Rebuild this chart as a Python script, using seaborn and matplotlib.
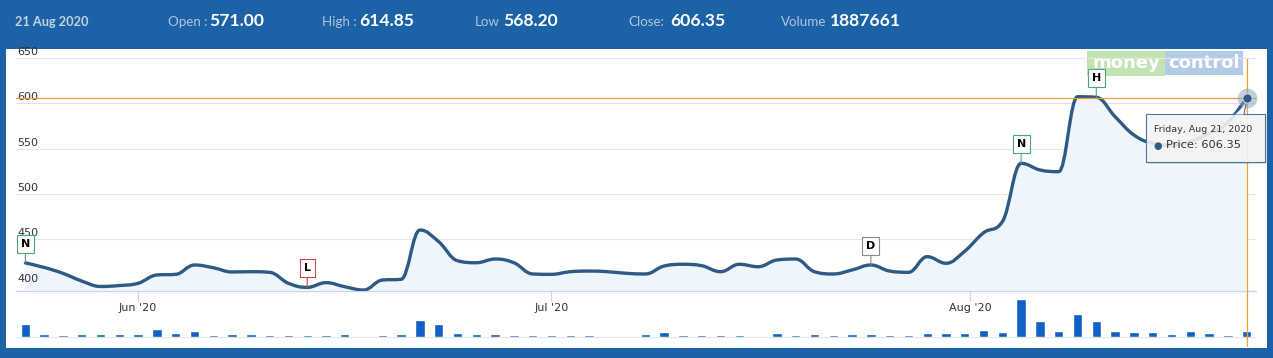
import numpy as np
import pandas as pd
import matplotlib
matplotlib.use("Agg")
import matplotlib.pyplot as plt
import seaborn as sns
from matplotlib.path import Path
from matplotlib.patches import PathPatch, Rectangle, Polygon
from matplotlib.lines import Line2D

# ---------------- data ----------------
header_date = "21 Aug 2020"
header_labels = ["Open :", "High :", "Low", "Close:", "Volume"]
header_values = ["571.00", "614.85", "568.20", "606.35", "1887661"]

price = [424, 419, 412.5, 404, 398, 399, 401.5, 410.7, 411.4, 421.7,
         418.7, 414, 414.3, 413.6, 401.5, 397, 402.2, 397.7, 394.1, 405.1,
         405.9, 460.3, 447.4, 426.4, 424.2, 428.3, 424.2, 411.8, 411.4, 414.3,
         415, 414.3, 412.5, 411.8, 420.6, 422.5, 420.9, 414.3, 422.5, 419.8,
         427.2, 428.3, 414.3, 411.8, 416.2, 421.7, 415, 413.6, 430.9, 423.6,
         437, 457.3, 469.5, 533.9, 526.6, 524.7, 607.4, 606.8, 585.4, 565.2,
         556, 554, 558, 567, 579, 606.35]

volume = [4200000, 950000, 650000, 950000, 950000, 950000, 950000, 2550000, 1220000, 1890000,
          650000, 950000, 950000, 650000, 650000, 650000, 650000, 950000, 0, 650000,
          950000, 5530000, 4200000, 1220000, 950000, 950000, 650000, 650000, 650000, 650000,
          650000, 0, 0, 950000, 1560000, 650000, 650000, 650000, 650000, 0,
          1220000, 650000, 950000, 650000, 950000, 1000000, 650000, 650000, 1220000, 1220000,
          1220000, 2220000, 1560000, 12480000, 5200000, 1890000, 7520000, 5200000, 1890000, 1560000,
          1560000, 950000, 1890000, 1220000, 650000, 1887661]

day_index = list(range(len(price)))
month_ticks = [6, 28, 50.3]
month_labels = ["Jun '20", "Jul '20", "Aug '20"]
y_ticks = [400, 450, 500, 550, 600, 650]
flag_index = [0, 15, 45, 53, 57]
flag_text = ["N", "L", "D", "N", "H"]
flag_edge = ["#4fa57a", "#c9484a", "#8a8a8a", "#4fa57a", "#4fa57a"]
tooltip_date = "Friday, Aug 21, 2020"
tooltip_price = 606.35

# ---------------- style ----------------
sns.set_theme(style="white")
plt.rcParams["font.family"] = ["DejaVu Sans"]

W, H = 1273, 358
BLUE = "#1b62a6"
LINE = "#2e5a84"


def fx(x):
    return x / W


def fy(y):
    return 1 - y / H


fig = plt.figure(figsize=(W / 100, H / 100), dpi=100)
fig.patch.set_facecolor(BLUE)

# white panel
fig.add_artist(Rectangle((fx(6), fy(348)), fx(1267) - fx(6), fy(49) - fy(348),
                         transform=fig.transFigure, facecolor="white",
                         edgecolor="none", zorder=-2))

# watermark
fig.add_artist(Rectangle((fx(1087), fy(76)), fx(1165) - fx(1087), fy(51) - fy(76),
                         transform=fig.transFigure, facecolor="#c4e3b3",
                         edgecolor="none", zorder=-1))
fig.add_artist(Rectangle((fx(1165), fy(75)), fx(1243) - fx(1165), fy(51) - fy(75),
                         transform=fig.transFigure, facecolor="#b3cbe6",
                         edgecolor="none", zorder=-1))
fig.text(fx(1126), fy(63.5), "money", color="white", fontsize=13, fontweight="bold",
         ha="center", va="center", zorder=-0.5, family=["DejaVu Sans"])
fig.text(fx(1204), fy(63.5), "control", color="white", fontsize=13, fontweight="bold",
         ha="center", va="center", zorder=-0.5, family=["DejaVu Sans"])

# header
hdr_font = ["Lato", "DejaVu Sans"]
fig.text(fx(15), fy(26), header_date, color="#c6d1de", fontsize=9.2,
         fontweight="bold", ha="left", va="baseline", family=hdr_font)
label_x = [168, 322, 475, 628, 781]
value_x = [209, 359, 503, 670, 830]
for lab, val, lx, vx in zip(header_labels, header_values, label_x, value_x):
    fig.text(fx(lx), fy(26), lab, color="#b3c5db", fontsize=9.6,
             ha="left", va="baseline", family=hdr_font)
    fig.text(fx(vx), fy(26), val, color="white", fontsize=12.6, fontweight="bold",
             ha="left", va="baseline", family=hdr_font)

# ---------------- volume axes ----------------
ax_l, ax_r = 16, 1256
axv = fig.add_axes([fx(ax_l), fy(337), fx(ax_r) - fx(ax_l), fy(296) - fy(337)])
axv.set_facecolor("none")
vdf = pd.DataFrame({"idx": day_index, "volume": volume})
sns.barplot(data=vdf, x="idx", y="volume", ax=axv, color="#0f62c4",
            saturation=1, width=0.5, errorbar=None)
axv.set_xlim(-0.5, len(price) - 0.5)
axv.set_ylim(0, 13.6e6)
axv.set_xticks([])
axv.set_yticks([])
axv.set_xlabel("")
axv.set_ylabel("")
for s in axv.spines.values():
    s.set_visible(False)
axv.axhline(0, color="#e6e6e6", lw=0.8, clip_on=False, zorder=0)

# ---------------- price axes ----------------
ax = fig.add_axes([fx(ax_l), fy(291), fx(ax_r) - fx(ax_l), fy(50) - fy(291)])
ax.set_facecolor("none")
ymin, ymax = 393, 659
ax.set_xlim(-0.5, len(price) - 0.5)
ax.set_ylim(ymin, ymax)
for s in ax.spines.values():
    s.set_visible(False)

for v in y_ticks[1:]:
    ax.axhline(v, color="#f2d9ee" if v == 600 else "#e6e6e6", lw=0.8, zorder=0)
ax.axhline(ymin, color="#ccd6eb", lw=1.0, zorder=1, clip_on=False)
for v in y_ticks:
    ax.annotate(str(v), xy=(0, v), xycoords=("axes fraction", "data"),
                xytext=(1, 6.0), textcoords="offset pixels", ha="left",
                va="center", fontsize=8, color="#333333")
ax.set_yticks([])


# Highcharts-like spline through the data points
def spline_verts(xs, ys, smoothing=1.5):
    n = len(xs)
    denom = smoothing + 1
    lc = [(xs[i], ys[i]) for i in range(n)]
    rc = [(xs[i], ys[i]) for i in range(n)]
    for i in range(1, n - 1):
        px, py = xs[i], ys[i]
        lx, ly = xs[i - 1], ys[i - 1]
        nx, ny = xs[i + 1], ys[i + 1]
        lcx = (smoothing * px + lx) / denom
        lcy = (smoothing * py + ly) / denom
        rcx = (smoothing * px + nx) / denom
        rcy = (smoothing * py + ny) / denom
        corr = ((rcy - lcy) * (rcx - px)) / (rcx - lcx) + py - rcy
        lcy += corr
        rcy += corr
        if lcy > ly and lcy > py:
            lcy = max(ly, py)
            rcy = 2 * py - lcy
        elif lcy < ly and lcy < py:
            lcy = min(ly, py)
            rcy = 2 * py - lcy
        if rcy > ny and rcy > py:
            rcy = max(ny, py)
            lcy = 2 * py - rcy
        elif rcy < ny and rcy < py:
            rcy = min(ny, py)
            lcy = 2 * py - rcy
        lc[i] = (lcx, lcy)
        rc[i] = (rcx, rcy)
    verts = [(xs[0], ys[0])]
    codes = [Path.MOVETO]
    for i in range(1, n):
        verts += [rc[i - 1], lc[i], (xs[i], ys[i])]
        codes += [Path.CURVE4] * 3
    return verts, codes


verts, codes = spline_verts(day_index, price)
fill_verts = verts + [(day_index[-1], ymin), (day_index[0], ymin), verts[0]]
fill_codes = codes + [Path.LINETO, Path.LINETO, Path.CLOSEPOLY]
ax.add_patch(PathPatch(Path(fill_verts, fill_codes), facecolor="#eef5fc",
                       edgecolor="none", zorder=1))
ax.add_patch(PathPatch(Path(verts, codes), facecolor="none", edgecolor=LINE,
                       lw=2.4, capstyle="round", joinstyle="round", zorder=3))

# month ticks
ax.set_xticks(month_ticks)
ax.set_xticklabels(month_labels)
ax.tick_params(axis="x", length=7.5, width=0.8, color="#ccd6eb", pad=1,
               labelsize=8, labelcolor="#333333", bottom=True)

# flags
for i, t, ec in zip(flag_index, flag_text, flag_edge):
    ax.annotate(t, xy=(day_index[i], price[i]), xytext=(0, 19),
                textcoords="offset pixels", ha="center", va="center",
                fontsize=8, fontweight="bold", color="black",
                bbox=dict(boxstyle="square,pad=0.35", fc="white", ec=ec, lw=0.8),
                arrowprops=dict(arrowstyle="-", color=ec, lw=0.8,
                                shrinkA=0, shrinkB=0), zorder=5)

# crosshair
last = day_index[-1]
ax.axhline(tooltip_price, color="#f0a030", lw=0.9, zorder=4)
ax.axvline(last, ymin=-(346 - 291) / 241, ymax=(291 - 59) / 241,
           color="#f0a030", lw=0.9, zorder=4, clip_on=False)
ax.scatter([last], [tooltip_price], s=200, color="#8fa6c0", alpha=0.55,
           zorder=6, clip_on=False, linewidths=0)
ax.scatter([last], [tooltip_price], s=45, color=LINE, edgecolor="#c9d6e4",
           linewidths=0.8, zorder=7, clip_on=False)

# tooltip
fig.add_artist(Rectangle((fx(1148), fy(164)), fx(1267) - fx(1148), fy(116) - fy(164),
                         transform=fig.transFigure, facecolor="#000000", alpha=0.12,
                         edgecolor="none", zorder=8))
fig.add_artist(Rectangle((fx(1146), fy(162)), fx(1265) - fx(1146), fy(114) - fy(162),
                         transform=fig.transFigure, facecolor=(0.97, 0.97, 0.97, 0.88),
                         edgecolor="#4f7499", lw=0.8, zorder=9))
fig.add_artist(Polygon([(fx(1235), fy(114.5)), (fx(1244), fy(114.5)), (fx(1246), fy(104))],
                       closed=True, transform=fig.transFigure,
                       facecolor=(0.97, 0.97, 0.97, 0.88), edgecolor="none", zorder=9))
fig.add_artist(Line2D([fx(1244), fx(1246)], [fy(114), fy(104)], transform=fig.transFigure,
                      color="#4f7499", lw=0.8, zorder=9))
fig.text(fx(1154), fy(130), tooltip_date, fontsize=6.8, color="#333333",
         ha="left", va="center", zorder=10)
fig.text(fx(1158), fy(145.5), "\u25CF", fontsize=7, color=LINE,
         ha="center", va="center", zorder=10)
fig.text(fx(1166), fy(145), "Price: %.2f" % tooltip_price, fontsize=8.2,
         color="#333333", ha="left", va="center", zorder=10)

fig.savefig("out.png", dpi=100, facecolor=fig.get_facecolor())
